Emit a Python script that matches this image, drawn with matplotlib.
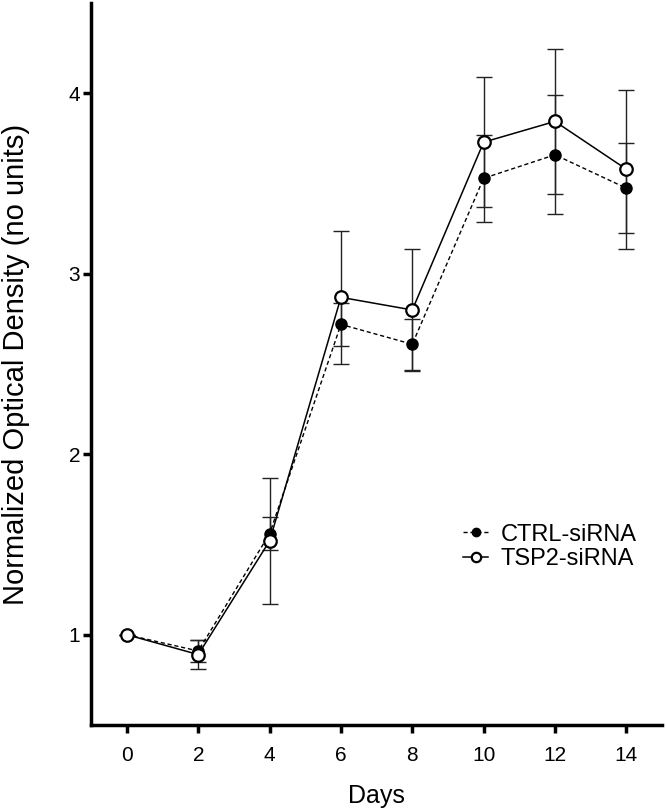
import matplotlib
matplotlib.use("Agg")
import matplotlib.pyplot as plt

plt.rcParams['font.family'] = ['Liberation Sans', 'DejaVu Sans']

days = [0, 2, 4, 6, 8, 10, 12, 14]
ctrl_mean = [1.00, 0.91, 1.56, 2.72, 2.61, 3.53, 3.66, 3.475]
ctrl_err = [0.0, 0.06, 0.09, 0.12, 0.14, 0.24, 0.33, 0.25]
tsp2_mean = [1.00, 0.89, 1.52, 2.87, 2.80, 3.73, 3.845, 3.58]
tsp2_err = [0.0, 0.08, 0.35, 0.37, 0.34, 0.36, 0.40, 0.44]
xticks = [0, 2, 4, 6, 8, 10, 12, 14]
yticks = [1, 2, 3, 4]

fig = plt.figure(figsize=(6.66, 8.10), dpi=100)
ax = fig.add_axes([0.137, 0.105, 0.857, 0.891])

ax.errorbar(days, ctrl_mean, yerr=ctrl_err, fmt='none', ecolor='#222222',
            elinewidth=1.0, capsize=6, capthick=1.0, zorder=2)
ax.errorbar(days, tsp2_mean, yerr=tsp2_err, fmt='none', ecolor='#222222',
            elinewidth=1.0, capsize=6, capthick=1.0, zorder=2)
ax.plot(days, ctrl_mean, color='black', linestyle=(0, (3, 2)), linewidth=1.0,
        marker='o', markersize=8, markerfacecolor='black', markeredgecolor='black',
        label='CTRL-siRNA', zorder=3)
ax.plot(days, tsp2_mean, color='black', linestyle='-', linewidth=1.1,
        marker='o', markersize=9, markerfacecolor='white', markeredgecolor='black',
        markeredgewidth=1.6, label='TSP2-siRNA', zorder=4)

ax.set_xlim(-1, 15)
ax.set_ylim(0.5, 4.5)
ax.set_xticks(xticks)
ax.set_yticks(yticks)
for s in ['top', 'right']:
    ax.spines[s].set_visible(False)
for s in ['left', 'bottom']:
    ax.spines[s].set_linewidth(2.5)
ax.tick_params(axis='both', direction='out', length=6, width=2.5, labelsize=15)
ax.tick_params(axis='x', pad=9)
ax.tick_params(axis='y', pad=2)

ax.set_xlabel('Days', fontsize=18, labelpad=14)
ax.set_ylabel('Normalized Optical Density (no units)', fontsize=21)
ax.yaxis.set_label_coords(-0.108, 0.5)

leg = ax.legend(loc='upper left', bbox_to_anchor=(0.635, 0.292), frameon=False, fontsize=17,
                handlelength=1.05, handletextpad=0.55, labelspacing=0.12,
                markerscale=0.75, borderaxespad=0)

fig.savefig('out.png', dpi=100)
